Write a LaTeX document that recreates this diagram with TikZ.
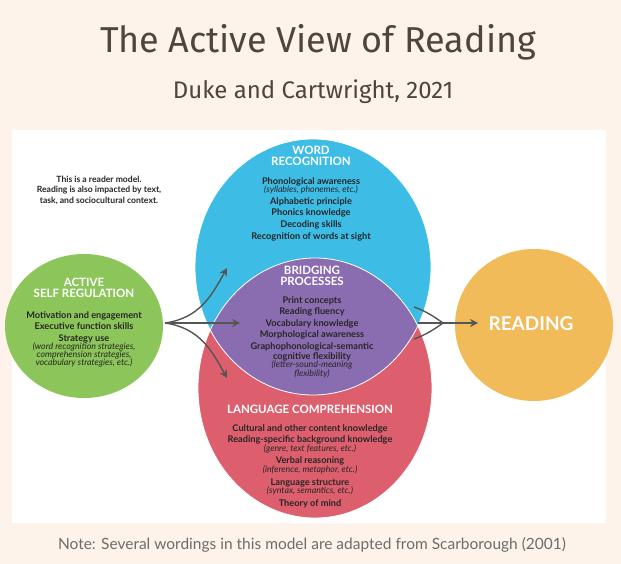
\documentclass[tikz,border=0pt]{standalone}
\usepackage{fontspec}
\setmainfont{Lato}
\newfontfamily\ttlfont{Fira Sans}
\usetikzlibrary{arrows.meta}
\definecolor{bgc}{HTML}{FDF3EA}
\definecolor{ttl}{HTML}{4F453F}
\definecolor{cblue}{HTML}{3DBDE6}
\definecolor{cpurp}{HTML}{8A6DB0}
\definecolor{cred}{HTML}{DD5F6E}
\definecolor{cgreen}{HTML}{8CC65A}
\definecolor{corange}{HTML}{F2BB5A}
\definecolor{arr}{HTML}{555555}
\tikzset{
 body/.style={align=center,font=\bfseries\fontsize{9.2}{11.6}\selectfont,text=black!85},
 head/.style={align=center,font=\bfseries\fontsize{11.5}{11.5}\selectfont,text=white},
 con/.style={draw=arr,line width=1.4pt,-{Stealth[length=8pt,width=8pt]}}
}
\newcommand{\itl}[1]{{\normalfont\itshape\fontsize{8.8}{10}\selectfont #1}}
\begin{document}
\begin{tikzpicture}[x=1pt,y=-1pt]
\useasboundingbox (0,0) rectangle (621,564);
\fill[bgc] (0,0) rectangle (621,564);
\fill[white] (12,130) rectangle (606,523);
\node[text=ttl,font=\ttlfont\fontsize{36}{38}\selectfont] (title) at (318,42) {The Active View of Reading};
\node[text=ttl,font=\ttlfont\fontsize{24}{26}\selectfont] (sub) at (313,92) {Duke and Cartwright, 2021};
\node[text=gray!85!black,font=\fontsize{15.5}{17}\selectfont] (note) at (312,545) {Note: Several wordings in this model are adapted from Scarborough (2001)};
% ellipses
\fill[cblue] (313,267) ellipse [x radius=118, y radius=128];
\fill[cred] (315,388) ellipse [x radius=117, y radius=130];
\begin{scope}
\clip (313,267) ellipse [x radius=118, y radius=128];
\fill[cpurp] (315,388) ellipse [x radius=117, y radius=130];
\end{scope}
\draw[white,line width=0.8pt] (315,388) ellipse [x radius=117, y radius=130];
\draw[white,line width=0.8pt] (313,267) ellipse [x radius=118, y radius=128];
\fill[cgreen] (84,326) ellipse [x radius=79, y radius=72];
\fill[corange] (534,325) ellipse [x radius=79, y radius=76];
% texts
\node[body,font=\bfseries\fontsize{8.6}{10.5}\selectfont] (model) at (99,190) {This is a reader model.\\Reading is also impacted by text,\\task, and sociocultural context.};
\node[head] (wrh) at (311,156) {WORD\\RECOGNITION};
\node[body] (wr) at (311,209) {Phonological awareness\\[-3pt]\itl{(syllables, phonemes, etc.)}\\Alphabetic principle\\Phonics knowledge\\Decoding skills\\Recognition of words at sight};
\node[body,head] (bph) at (312,276) {BRIDGING\\PROCESSES};
\node[body] (bp) at (312,337) {Print concepts\\Reading fluency\\Vocabulary knowledge\\Morphological awareness\\Graphophonological-semantic\\[-2pt]cognitive flexibility\\[-3pt]\itl{(letter-sound-meaning}\\[-3pt]\itl{flexibility)}};
\node[head] (lch) at (310,409) {LANGUAGE COMPREHENSION};
\node[body] (lc) at (310,466) {Cultural and other content knowledge\\[0pt]Reading-specific background knowledge\\[-3pt]\itl{(genre, text features, etc.)}\\[1pt]Verbal reasoning\\[-3pt]\itl{(inference, metaphor, etc.)}\\[1pt]Language structure\\[-3pt]\itl{(syntax, semantics, etc.)}\\[1pt]Theory of mind};
\node[head] (ash) at (84,288) {ACTIVE\\SELF REGULATION};
\node[body] (as) at (84,339) {Motivation and engagement\\Executive function skills\\Strategy use\\[-3pt]\itl{(word recognition strategies,}\\[-4pt]\itl{comprehension strategies,}\\[-4pt]\itl{vocabulary strategies, etc.)}};
\node[text=white,font=\bfseries\fontsize{19}{20}\selectfont] (rd) at (531,324) {READING};
% connectors
\coordinate (f) at (165,323);
\coordinate (t1) at (227,268);
\coordinate (t2) at (240,323);
\coordinate (t3) at (227,378);
\draw[con] (f) .. controls (200,318) and (212,295) .. (t1);
\draw[con] (f) -- (t2);
\draw[con] (f) .. controls (200,328) and (212,351) .. (t3);
\coordinate (c1) at (414,307);
\coordinate (c2) at (414,339);
\coordinate (cm) at (443,323);
\coordinate (cs) at (418,323);
\coordinate (re) at (478,323);
\draw[arr,line width=1.4pt] (c1) .. controls (426,311) and (436,318) .. (cm) .. controls (436,328) and (426,335) .. (c2);
\draw[con] (cs) -- (re);
\end{tikzpicture}
\end{document}
